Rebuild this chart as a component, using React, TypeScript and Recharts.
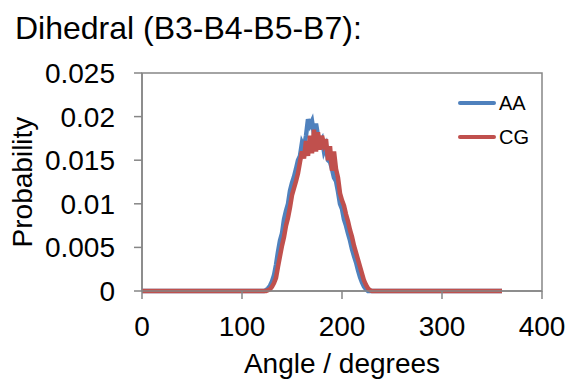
import React from 'react';
import { LineChart, Line, XAxis, YAxis, Legend, ReferenceArea } from 'recharts';

const angles = [
  0, 10, 20, 30, 40, 50, 60, 70, 80, 90, 100, 110, 120,
  122, 124, 126, 128, 130, 132, 134, 136, 138, 140, 142, 144, 146, 148, 150,
  152, 154, 156, 158, 160, 162, 164, 166, 168, 170, 172, 174, 176, 178, 180,
  182, 184, 186, 188, 190, 192, 194, 196, 198, 200, 202, 204, 206, 208, 210,
  212, 214, 216, 218, 220, 222, 224, 226, 228, 230, 232,
  240, 250, 260, 270, 280, 290, 300, 310, 320, 330, 340, 350, 360,
];

const aaValues = [
  0, 0, 0, 0, 0, 0, 0, 0, 0, 0, 0, 0, 0,
  0, 0.0001, 0.0003, 0.0006, 0.0011, 0.0018, 0.003, 0.0045, 0.0058, 0.0066, 0.0082, 0.0092, 0.01, 0.0115, 0.0124,
  0.0131, 0.014, 0.015, 0.0155, 0.017, 0.0165, 0.0178, 0.0197, 0.019, 0.0195, 0.018, 0.0192, 0.0178, 0.017, 0.0174,
  0.016, 0.0166, 0.015, 0.0148, 0.014, 0.013, 0.0126, 0.0114, 0.01, 0.0094, 0.0082, 0.0075, 0.0066, 0.0058, 0.0048,
  0.004, 0.0033, 0.0024, 0.0016, 0.001, 0.0005, 0.0002, 0, 0, 0, 0,
  0, 0, 0, 0, 0, 0, 0, 0, 0, 0, 0, 0, 0,
];

const cgValues = [
  0, 0, 0, 0, 0, 0, 0, 0, 0, 0, 0, 0, 0,
  0, 0, 0.0001, 0.0002, 0.0005, 0.0009, 0.0015, 0.0028, 0.004, 0.0052, 0.0062, 0.0075, 0.0084, 0.0096, 0.011,
  0.0118, 0.0126, 0.0135, 0.0148, 0.016, 0.0152, 0.0172, 0.0155, 0.0178, 0.0158, 0.0185, 0.016, 0.0182, 0.0162, 0.0178,
  0.0168, 0.0174, 0.015, 0.0166, 0.0138, 0.016, 0.014, 0.013, 0.0112, 0.0104, 0.0098, 0.0088, 0.008, 0.007, 0.0062,
  0.0052, 0.0044, 0.0036, 0.0028, 0.002, 0.0012, 0.0007, 0.0003, 0.0001, 0, 0,
  0, 0, 0, 0, 0, 0, 0, 0, 0, 0, 0, 0, 0,
];

const xTicks = [0, 100, 200, 300, 400];
const yTicks = [0, 0.005, 0.01, 0.015, 0.02, 0.025];

const data = angles.map((a, i) => ({ angle: a, AA: aaValues[i], CG: cgValues[i] }));

const FONT = '"Liberation Sans", Arial, sans-serif';
const AXIS = '#868686';

const renderLegend = (props: any) => {
  const { payload } = props;
  return (
    <div>
      {(payload || []).map((p: any) => (
        <div key={p.value} style={{ display: 'flex', alignItems: 'center', height: 34 }}>
          <span style={{ display: 'inline-block', width: 38, height: 4, borderRadius: 2, background: p.color, marginRight: 3 }} />
          <span style={{ fontSize: 20, fontFamily: FONT, color: '#000' }}>{p.value}</span>
        </div>
      ))}
    </div>
  );
};

export default function App() {
  return (
    <div style={{ position: 'absolute', left: 0, top: 0, width: 572, height: 379, background: '#fff', fontFamily: FONT }}>
      <div style={{ position: 'absolute', left: 15, top: 12, fontSize: 32, lineHeight: '32px', whiteSpace: 'nowrap', color: '#000' }}>
        Dihedral (B3-B4-B5-B7):
      </div>
      <div
        style={{
          position: 'absolute', left: 23 - 100, top: 182 - 16, width: 200, height: 32,
          lineHeight: '32px', fontSize: 28, textAlign: 'center', transform: 'rotate(-90deg)', color: '#000',
        }}
      >
        Probability
      </div>
      <LineChart width={572} height={379} data={data} margin={{ top: 73, right: 30, bottom: 28, left: 70 }} style={{ fontFamily: FONT }}>
        <ReferenceArea x1={0} x2={400} y1={0} y2={0.025} fill="none" stroke={AXIS} strokeWidth={1.5} ifOverflow="visible" />
        <XAxis
          type="number"
          dataKey="angle"
          domain={[0, 400]}
          ticks={xTicks}
          height={60}
          tickSize={8}
          tickMargin={17}
          stroke={AXIS}
          strokeWidth={1.5}
          tick={{ fontSize: 28, fill: '#000' }}
          label={{ value: 'Angle / degrees', position: 'bottom', offset: 2, fontSize: 28, fill: '#000' }}
        />
        <YAxis
          type="number"
          domain={[0, 0.025]}
          ticks={yTicks}
          width={72}
          tickSize={8}
          tickMargin={19}
          stroke={AXIS}
          strokeWidth={1.5}
          tick={{ fontSize: 28, fill: '#000' }}
        />
        <Legend
          layout="vertical"
          verticalAlign="middle"
          align="center"
          content={renderLegend}
          wrapperStyle={{ position: 'absolute', left: 458, top: 86, width: 100 }}
        />
        <Line type="linear" dataKey="AA" stroke="#4F81BD" strokeWidth={4.5} dot={false} isAnimationActive={false} />
        <Line type="linear" dataKey="CG" stroke="#C0504D" strokeWidth={4.5} dot={false} isAnimationActive={false} />
      </LineChart>
    </div>
  );
}
